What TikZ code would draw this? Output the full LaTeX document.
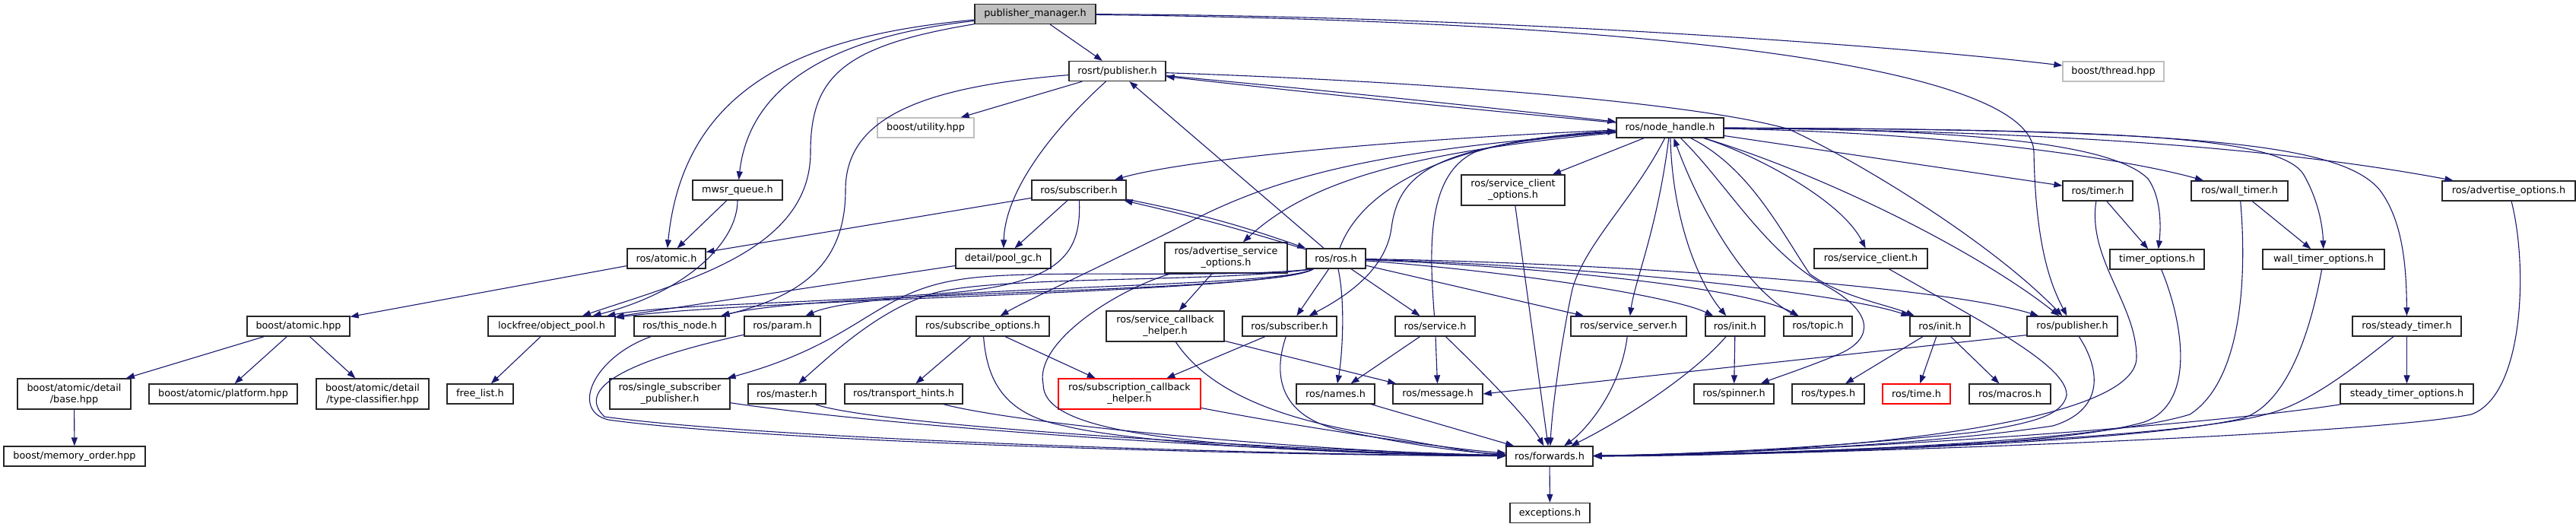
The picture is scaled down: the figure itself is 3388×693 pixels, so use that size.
\documentclass[tikz,border=0pt]{standalone}
\usepackage{fontspec}
\setmainfont{DejaVu Sans}
\usetikzlibrary{arrows.meta}
\definecolor{navy}{RGB}{25,25,112}
\definecolor{lgray}{RGB}{191,191,191}
\begin{document}
\begin{tikzpicture}[x=1pt,y=-1pt,
  box/.style={draw=black!85, line width=1.3pt, fill=white, font=\fontsize{12.8}{15}\selectfont,
              minimum height=26pt, inner xsep=3pt, inner ysep=2pt, anchor=center},
  two/.style={align=center, minimum height=40pt},
  gbox/.style={box, draw=lgray},
  rbox/.style={box, draw=red},
  e/.style={draw=navy, line width=1.1pt, -{Triangle[length=11pt,width=8pt]}}]
\fill[white] (0,0) rectangle (3388,693);
\useasboundingbox (0,0) rectangle (3388,693);
% ---------- nodes ----------
\node[box,minimum width=159pt,fill=lgray] (pm) at (1361.5,18.5) {publisher\_manager.h};
\node[box,minimum width=127pt] (rpub) at (1469.5,93.5) {rosrt/publisher.h};
\node[gbox,minimum width=133pt] (thread) at (2779.5,94) {boost/thread.hpp};
\node[gbox,minimum width=127pt] (utility) at (1217.5,168) {boost/utility.hpp};
\node[box,minimum width=141pt] (nh) at (2196.5,168) {ros/node\_handle.h};
\node[box,minimum width=118pt] (mwsr) at (970,250) {mwsr\_queue.h};
\node[box,minimum width=124pt] (sub1) at (1419,250) {ros/subscriber.h};
\node[box,two,minimum width=136pt] (sco) at (1990,250) {ros/service\_client\\\_options.h};
\node[box,minimum width=92pt] (timer) at (2759,251) {ros/timer.h};
\node[box,minimum width=127pt] (wtimer) at (2945.5,251) {ros/wall\_timer.h};
\node[box,minimum width=175pt] (advopt) at (3299.5,251) {ros/advertise\_options.h};
\node[box,minimum width=103pt] (atomic) at (876.5,340) {ros/atomic.h};
\node[box,minimum width=125pt] (poolgc) at (1319.5,340) {detail/pool\_gc.h};
\node[box,two,minimum width=161pt] (aso) at (1612.5,339) {ros/advertise\_service\\\_options.h};
\node[box,minimum width=78pt] (ros) at (1757,340) {ros/ros.h};
\node[box,minimum width=149pt] (sc) at (2460.5,340) {ros/service\_client.h};
\node[box,minimum width=124pt] (topt) at (2837,341) {timer\_options.h};
\node[box,minimum width=160pt] (wtopt) at (3056,341) {wall\_timer\_options.h};
\node[box,minimum width=135pt] (batomic) at (392.5,429) {boost/atomic.hpp};
\node[box,minimum width=167pt] (objpool) at (725.5,429) {lockfree/object\_pool.h};
\node[box,minimum width=120pt] (thisnode) at (894,429) {ros/this\_node.h};
\node[box,minimum width=100pt] (param) at (1029,429) {ros/param.h};
\node[box,minimum width=175pt] (subopt) at (1292.5,429) {ros/subscribe\_options.h};
\node[box,two,minimum width=155pt] (sch) at (1532.5,429) {ros/service\_callback\\\_helper.h};
\node[box,minimum width=124pt] (sub2) at (1696,429) {ros/subscriber.h};
\node[box,minimum width=105pt] (service) at (1887.5,429) {ros/service.h};
\node[box,minimum width=152pt] (ssrv) at (2142,429) {ros/service\_server.h};
\node[box,minimum width=78pt] (init1) at (2282,429) {ros/init.h};
\node[box,minimum width=90pt] (topic) at (2391,429) {ros/topic.h};
\node[box,minimum width=79pt] (init2) at (2551.5,429) {ros/init.h};
\node[box,minimum width=119pt] (rospub) at (2725.5,429) {ros/publisher.h};
\node[box,minimum width=143pt] (stimer) at (3165.5,429) {ros/steady\_timer.h};
\node[box,two,minimum width=149pt] (base) at (97.5,518) {boost/atomic/detail\\/base.hpp};
\node[box,minimum width=195pt] (platform) at (293.5,518) {boost/atomic/platform.hpp};
\node[box,two,minimum width=148pt] (tclass) at (490,518) {boost/atomic/detail\\/type-classifier.hpp};
\node[box,minimum width=87pt] (freelist) at (631.5,518) {free\_list.h};
\node[box,two,minimum width=158pt] (ssp) at (881,518) {ros/single\_subscriber\\\_publisher.h};
\node[box,minimum width=102pt] (master) at (1035,518) {ros/master.h};
\node[box,minimum width=155pt] (thints) at (1188.5,518) {ros/transport\_hints.h};
\node[rbox,two,minimum width=187pt] (subcb) at (1485.5,518) {ros/subscription\_callback\\\_helper.h};
\node[box,minimum width=103pt] (names) at (1756.5,518) {ros/names.h};
\node[box,minimum width=118pt] (message) at (1891,518) {ros/message.h};
\node[box,minimum width=105pt] (spinner) at (2280.5,518) {ros/spinner.h};
\node[box,minimum width=95pt] (types) at (2404.5,518) {ros/types.h};
\node[rbox,minimum width=89pt] (time) at (2520.5,518) {ros/time.h};
\node[box,minimum width=107pt] (macros) at (2643.5,518) {ros/macros.h};
\node[box,minimum width=175pt] (stopt) at (3165.5,518) {steady\_timer\_options.h};
\node[box,minimum width=186pt] (memorder) at (98,600) {boost/memory\_order.hpp};
\node[box,minimum width=114pt] (fwd) at (2038,600) {ros/forwards.h};
\node[box,minimum width=105pt] (exc) at (2038.5,674.5) {exceptions.h};
% ---------- edges ----------
% publisher_manager.h
\draw[e] (pm) -- (rpub);
\draw[e] (pm) .. controls (1900,20) and (2450,55) .. (thread);
\draw[e] (pm) .. controls (2200,28) and (2672,90) .. (2675,200) .. controls (2677,330) and (2700,380) .. (rospub);
\draw[e] (pm) .. controls (1080,45) and (900,100) .. (atomic);
\draw[e] (pm) .. controls (1080,50) and (985,120) .. (mwsr);
\draw[e] (pm) .. controls (1110,60) and (1066,100) .. (1066,200) .. controls (1066,330) and (900,370) .. (objpool);
% rosrt/publisher.h
\draw[e] (rpub) -- (utility);
\draw[e] (rpub) .. controls (1385,170) and (1322,250) .. (poolgc);
\draw[e] (rpub) .. controls (1200,115) and (1112,160) .. (1112,250) .. controls (1112,350) and (1050,390) .. (thisnode);
\draw[e] (rpub) to[bend left=0.5] (nh);
\draw[e] (nh) to[bend left=0.5] (rpub);
\draw[e] (rpub) .. controls (1950,110) and (2250,140) .. (2353,170) .. controls (2450,215) and (2620,320) .. (rospub);
\draw[e] (ros) -- (rpub);
% mwsr / subscriber (upper)
\draw[e] (mwsr) -- (atomic);
\draw[e] (mwsr) .. controls (970,320) and (900,385) .. (objpool);
\draw[e] (sub1) -- (atomic);
\draw[e] (sub1) -- (poolgc);
\draw[e] (sub1) .. controls (1422,330) and (1400,372) .. (1250,385) .. controls (1050,400) and (880,400) .. (objpool);
\draw[e] (sub1) to[bend left=4] (ros);
\draw[e] (ros) to[bend right=2] (sub1);
% node_handle.h
\draw[e] (nh) .. controls (1800,185) and (1550,212) .. (sub1);
\draw[e] (nh) .. controls (1850,195) and (1700,222) .. (1568,290) .. controls (1450,350) and (1350,395) .. (subopt);
\draw[e] (nh) .. controls (1850,200) and (1720,240) .. (aso);
\draw[e] (ros) .. controls (1790,250) and (1900,185) .. (nh);
\draw[e] (nh) .. controls (1900,190) and (1840,220) .. (1830,300) .. controls (1822,360) and (1760,395) .. (sub2);
\draw[e] (service) .. controls (1880,330) and (1875,230) .. (1940,200) .. controls (2000,180) and (2080,176) .. (nh);
\draw[e] (topic) .. controls (2290,380) and (2230,260) .. (nh);
\draw[e] (nh) -- (sco);
\draw[e] (nh) .. controls (2150,260) and (2085,320) .. (2068,380) .. controls (2055,440) and (2042,530) .. (fwd);
\draw[e] (nh) .. controls (2180,300) and (2150,370) .. (ssrv);
\draw[e] (nh) .. controls (2200,300) and (2240,380) .. (init1);
\draw[e] (nh) .. controls (2270,240) and (2320,330) .. (2400,375) .. controls (2465,410) and (2465,445) .. (2420,465) .. controls (2380,482) and (2340,495) .. (spinner);
\draw[e] (nh) .. controls (2300,220) and (2340,300) .. (2380,360) .. controls (2420,390) and (2480,400) .. (init2);
\draw[e] (nh) .. controls (2300,200) and (2420,260) .. (sc);
\draw[e] (nh) .. controls (2400,230) and (2600,330) .. (rospub);
\draw[e] (nh) -- (timer);
\draw[e] (nh) .. controls (2600,175) and (2820,215) .. (wtimer);
\draw[e] (nh) .. controls (2600,170) and (2780,190) .. (2825,235) .. controls (2843,260) and (2842,300) .. (topt);
\draw[e] (nh) .. controls (2800,170) and (3000,180) .. (3030,230) .. controls (3050,265) and (3055,300) .. (wtopt);
\draw[e] (nh) .. controls (2900,170) and (3080,190) .. (3130,250) .. controls (3160,290) and (3165,350) .. (stimer);
\draw[e] (nh) .. controls (2700,172) and (3000,195) .. (advopt);
% ros/ros.h
\draw[e] (ros) -- (sub2);
\draw[e] (ros) .. controls (1770,400) and (1765,470) .. (names);
\draw[e] (ros) -- (service);
\draw[e] (ros) -- (ssrv);
\draw[e] (ros) .. controls (2000,358) and (2200,390) .. (init1);
\draw[e] (ros) .. controls (2050,352) and (2300,380) .. (topic);
\draw[e] (ros) .. controls (2100,350) and (2420,385) .. (init2);
\draw[e] (ros) .. controls (2100,345) and (2550,375) .. (rospub);
\draw[e] ([xshift=10pt]ros.south west) .. controls (1680,385) and (1000,392) .. (objpool);
\draw[e] ([xshift=10pt]ros.south west) .. controls (1680,385) and (1080,382) .. (thisnode);
\draw[e] ([xshift=10pt]ros.south west) .. controls (1680,380) and (1150,375) .. (param);
\draw[e] ([xshift=10pt]ros.south west) .. controls (1600,368) and (1350,352) .. (1260,368) .. controls (1150,385) and (1130,450) .. (ssp);
\draw[e] ([xshift=10pt]ros.south west) .. controls (1600,372) and (1320,362) .. (1230,385) .. controls (1160,405) and (1100,460) .. (master);
% second row users
\draw[e] (sub2) -- (subcb);
\draw[e] (sub2) .. controls (1675,490) and (1680,545) .. (1760,565) .. controls (1850,585) and (1930,595) .. (fwd);
\draw[e] (service) -- (names);
\draw[e] (service) -- (message);
\draw[e] (service) .. controls (1950,490) and (2010,550) .. (fwd);
\draw[e] (ssrv) .. controls (2130,520) and (2080,570) .. (fwd);
\draw[e] (init1) -- (spinner);
\draw[e] (init1) .. controls (2220,500) and (2120,560) .. (fwd);
\draw[e] (names) -- (fwd);
\draw[e] (sco) -- (fwd);
\draw[e] (sc) .. controls (2600,420) and (2720,480) .. (2718,520) .. controls (2712,545) and (2680,555) .. (2600,568) .. controls (2400,590) and (2200,598) .. (fwd);
\draw[e] (rospub) .. controls (2765,490) and (2765,540) .. (2700,560) .. controls (2500,590) and (2200,598) .. (fwd);
\draw[e] ([yshift=2pt]rospub.south west) -- (message.east);
\draw[e] (timer) -- (topt);
\draw[e] (timer) .. controls (2745,340) and (2810,400) .. (2810,470) .. controls (2810,560) and (2400,597) .. (fwd);
\draw[e] (topt) .. controls (2870,420) and (2890,530) .. (2820,555) .. controls (2700,590) and (2300,598) .. (fwd);
\draw[e] (wtimer) -- (wtopt);
\draw[e] (wtimer) .. controls (2955,360) and (2950,500) .. (2880,545) .. controls (2750,585) and (2300,598) .. (fwd);
\draw[e] (wtopt) .. controls (3040,430) and (3010,530) .. (2950,550) .. controls (2800,585) and (2300,598) .. (fwd);
\draw[e] (stimer) -- (stopt);
\draw[e] (stimer) .. controls (3100,480) and (3040,530) .. (2980,545) .. controls (2850,580) and (2300,598) .. (fwd);
\draw[e] (stopt) .. controls (2900,560) and (2400,595) .. (fwd);
\draw[e] (advopt) .. controls (3325,350) and (3320,520) .. (3250,545) .. controls (3100,575) and (2300,600) .. (fwd);
\draw[e] (init2) -- (types);
\draw[e] (init2) -- (time);
\draw[e] (init2) -- (macros);
% lower left
\draw[e] (atomic) -- (batomic);
\draw[e] (poolgc) -- (objpool);
\draw[e] (objpool) -- (freelist);
\draw[e] (batomic) -- (base);
\draw[e] (batomic) -- (platform);
\draw[e] (batomic) -- (tclass);
\draw[e] (base) -- (memorder);
% advertise_service_options / subscribe_options / helpers
\draw[e] (aso) -- (sch);
\draw[e] (aso) .. controls (1470,380) and (1360,450) .. (1372,505) .. controls (1372,560) and (1500,590) .. (fwd);
\draw[e] (subopt) -- (thints);
\draw[e] (subopt) -- (subcb);
\draw[e] (subopt) .. controls (1298,500) and (1320,545) .. (1400,560) .. controls (1500,585) and (1800,598) .. (fwd);
\draw[e] (sch) .. controls (1580,500) and (1650,545) .. (1800,570) .. controls (1900,588) and (1950,597) .. (fwd);
\draw[e] (sch) -- (message);
\draw[e] (subcb) .. controls (1700,560) and (1900,590) .. (fwd);
\draw[e] (ssp) .. controls (1200,565) and (1700,596) .. (fwd);
\draw[e] (master) .. controls (1150,560) and (1700,592) .. (fwd);
\draw[e] (thints) .. controls (1350,560) and (1750,595) .. (fwd);
\draw[e] (thisnode) .. controls (780,470) and (750,540) .. (800,552) .. controls (1000,580) and (1600,598) .. (fwd);
\draw[e] (param) .. controls (880,462) and (745,500) .. (795,548) .. controls (1000,576) and (1600,597) .. (fwd);
\draw[e] (fwd) -- (exc);
\end{tikzpicture}
\end{document}
